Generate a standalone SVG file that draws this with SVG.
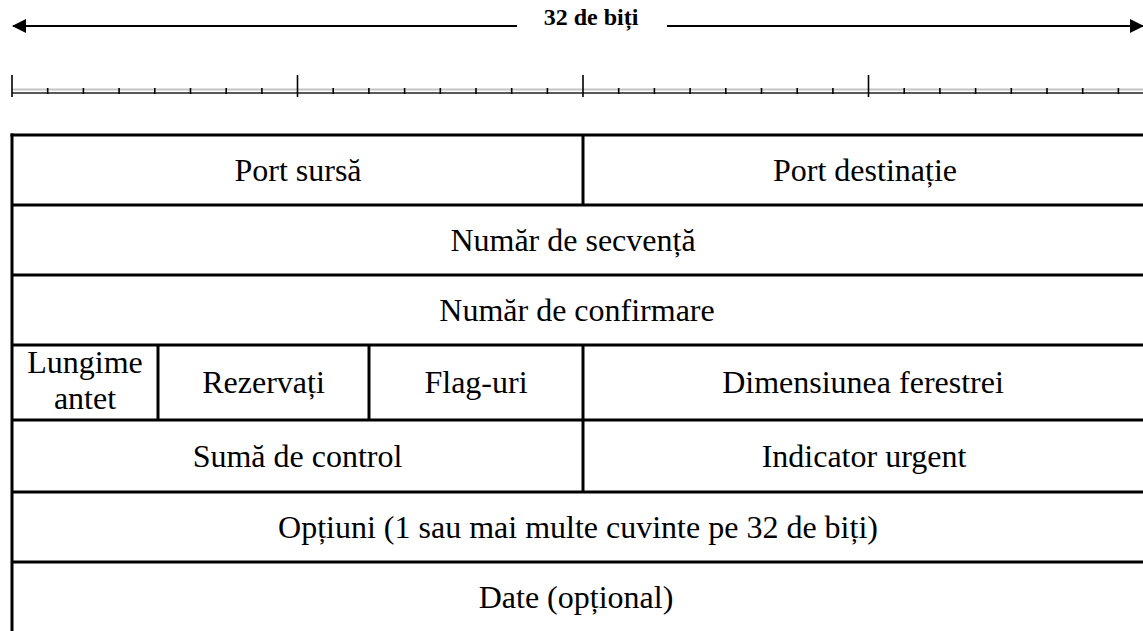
<svg xmlns="http://www.w3.org/2000/svg" width="1143" height="631" viewBox="0 0 1143 631">
  <style>
    .lbl { font-family: "Liberation Serif", "Times New Roman", serif; font-size: 32px; fill: #000; text-anchor: middle; }
    .ttl { font-family: "Liberation Serif", "Times New Roman", serif; font-size: 24px; font-weight: bold; fill: #000; text-anchor: middle; }
    .grid { stroke: #000; stroke-width: 3; fill: none; }
    .dim { stroke: #000; stroke-width: 2; fill: none; }
    .tick { stroke: #000; stroke-width: 1.6; }
  </style>
  <defs>
    <marker id="head" viewBox="0 0 14 14" refX="13" refY="7" markerWidth="14" markerHeight="14" markerUnits="userSpaceOnUse" orient="auto-start-reverse">
      <path d="M0,0 L14,7 L0,14 Z" fill="#000"/>
    </marker>
  </defs>
  <rect width="1143" height="631" fill="#fff"/>

  <!-- width arrow: 32 bits -->
  <g id="width-arrow">
    <line class="dim" x1="13" y1="26" x2="517" y2="26" marker-start="url(#head)"/>
    <line class="dim" x1="667" y1="26" x2="1143" y2="26" marker-end="url(#head)"/>
    <text class="ttl" x="591" y="25">32 de biți</text>
  </g>

  <!-- bit ruler -->
  <g id="ruler">
    <line x1="12" y1="89.5" x2="1143" y2="89.5" stroke="#c4c4c4" stroke-width="2"/>
    <line x1="12" y1="93" x2="1143" y2="93" stroke="#222" stroke-width="1.6"/>
    <g class="tick">
      <line x1="12" y1="75" x2="12" y2="97"/>
      <line x1="297.5" y1="75" x2="297.5" y2="97"/>
      <line x1="583" y1="75" x2="583" y2="97"/>
      <line x1="868.5" y1="75" x2="868.5" y2="97"/>
      <line x1="47.7" y1="88" x2="47.7" y2="94"/>
      <line x1="83.4" y1="88" x2="83.4" y2="94"/>
      <line x1="119.1" y1="88" x2="119.1" y2="94"/>
      <line x1="154.8" y1="88" x2="154.8" y2="94"/>
      <line x1="190.5" y1="88" x2="190.5" y2="94"/>
      <line x1="226.2" y1="88" x2="226.2" y2="94"/>
      <line x1="261.9" y1="88" x2="261.9" y2="94"/>
      <line x1="333.2" y1="88" x2="333.2" y2="94"/>
      <line x1="368.9" y1="88" x2="368.9" y2="94"/>
      <line x1="404.6" y1="88" x2="404.6" y2="94"/>
      <line x1="440.3" y1="88" x2="440.3" y2="94"/>
      <line x1="476" y1="88" x2="476" y2="94"/>
      <line x1="511.7" y1="88" x2="511.7" y2="94"/>
      <line x1="547.4" y1="88" x2="547.4" y2="94"/>
      <line x1="618.7" y1="88" x2="618.7" y2="94"/>
      <line x1="654.4" y1="88" x2="654.4" y2="94"/>
      <line x1="690.1" y1="88" x2="690.1" y2="94"/>
      <line x1="725.8" y1="88" x2="725.8" y2="94"/>
      <line x1="761.5" y1="88" x2="761.5" y2="94"/>
      <line x1="797.2" y1="88" x2="797.2" y2="94"/>
      <line x1="832.9" y1="88" x2="832.9" y2="94"/>
      <line x1="904.2" y1="88" x2="904.2" y2="94"/>
      <line x1="939.9" y1="88" x2="939.9" y2="94"/>
      <line x1="975.6" y1="88" x2="975.6" y2="94"/>
      <line x1="1011.3" y1="88" x2="1011.3" y2="94"/>
      <line x1="1047" y1="88" x2="1047" y2="94"/>
      <line x1="1082.7" y1="88" x2="1082.7" y2="94"/>
      <line x1="1118.4" y1="88" x2="1118.4" y2="94"/>
    </g>
  </g>

  <!-- header grid lines -->
  <g id="grid" class="grid">
    <line x1="12" y1="133.5" x2="12" y2="631"/>
    <line x1="10.5" y1="135" x2="1143" y2="135"/>
    <line x1="12" y1="205" x2="1143" y2="205"/>
    <line x1="12" y1="275" x2="1143" y2="275"/>
    <line x1="12" y1="345" x2="1143" y2="345"/>
    <line x1="12" y1="420" x2="1143" y2="420"/>
    <line x1="12" y1="492" x2="1143" y2="492"/>
    <line x1="12" y1="562" x2="1143" y2="562"/>
    <line x1="583" y1="135" x2="583" y2="205"/>
    <line x1="158" y1="345" x2="158" y2="420"/>
    <line x1="369" y1="345" x2="369" y2="420"/>
    <line x1="583" y1="345" x2="583" y2="492"/>
  </g>

  <g id="port-sursa"><text class="lbl" x="298" y="181">Port sursă</text></g>
  <g id="port-destinatie"><text class="lbl" x="865" y="181">Port destinație</text></g>
  <g id="numar-secventa"><text class="lbl" x="573" y="251">Număr de secvență</text></g>
  <g id="numar-confirmare"><text class="lbl" x="577" y="321">Număr de confirmare</text></g>
  <g id="lungime-antet">
    <text class="lbl" x="85" y="373">Lungime</text>
    <text class="lbl" x="85" y="409">antet</text>
  </g>
  <g id="rezervati"><text class="lbl" x="263.5" y="393">Rezervați</text></g>
  <g id="flaguri"><text class="lbl" x="476" y="393">Flag-uri</text></g>
  <g id="dimensiune-fereastra"><text class="lbl" x="863" y="393">Dimensiunea ferestrei</text></g>
  <g id="suma-control"><text class="lbl" x="297.5" y="467">Sumă de control</text></g>
  <g id="indicator-urgent"><text class="lbl" x="864" y="467">Indicator urgent</text></g>
  <g id="optiuni"><text class="lbl" x="578" y="538">Opțiuni (1 sau mai multe cuvinte pe 32 de biți)</text></g>
  <g id="date"><text class="lbl" x="576" y="608">Date (opțional)</text></g>
</svg>
